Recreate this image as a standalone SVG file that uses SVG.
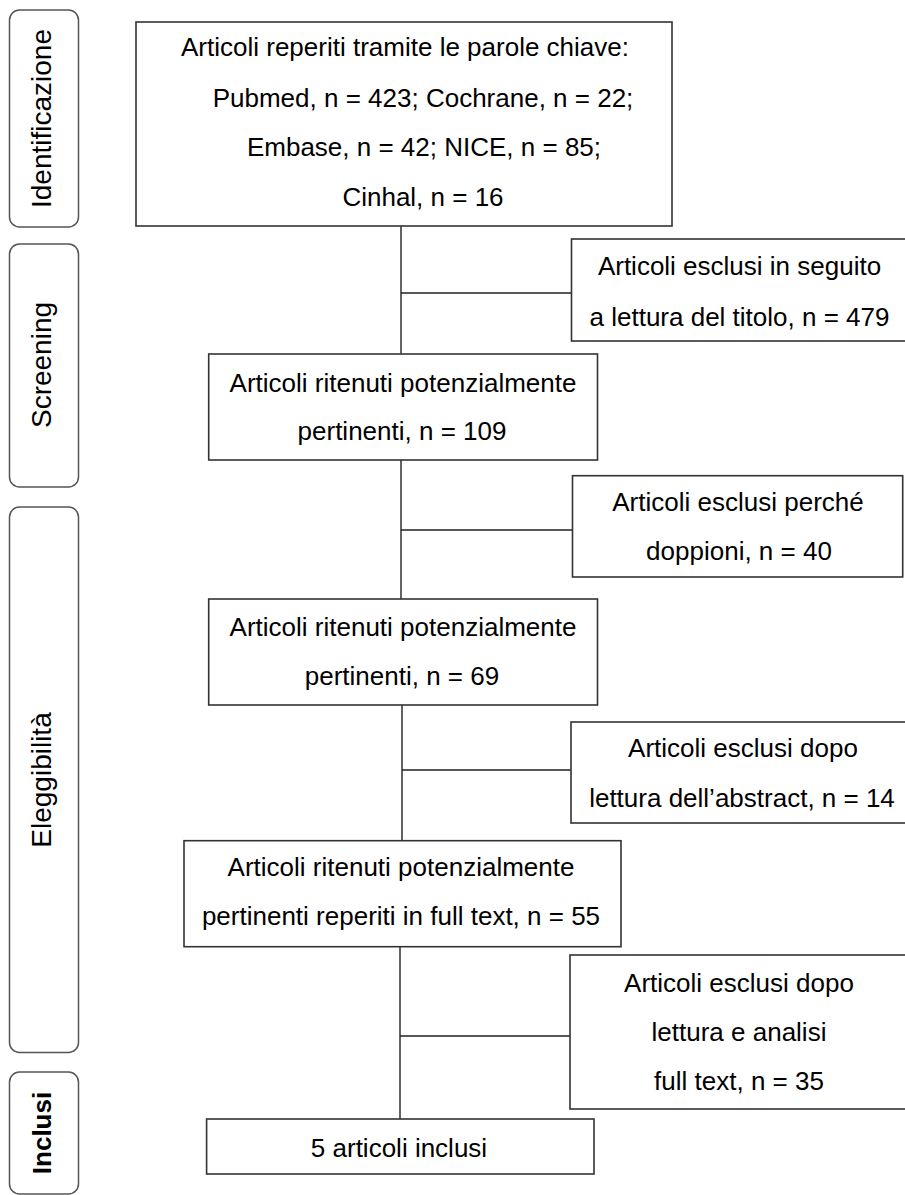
<svg xmlns="http://www.w3.org/2000/svg" width="905" height="1195" viewBox="0 0 905 1195">
<style>
.bg{fill:#ffffff}
.box{fill:#ffffff;stroke:#333333;stroke-width:1.6}
.lab{fill:#ffffff;stroke:#555555;stroke-width:1.5}
.t{font-family:"Liberation Sans",Arial,sans-serif;font-size:26px;fill:#000000;text-anchor:middle}
.lt{font-family:"Liberation Sans",Arial,sans-serif;font-size:28px;fill:#000000;text-anchor:middle}
.conn{fill:none;stroke:#222222;stroke-width:1.4}
</style>
<rect class="bg" x="0" y="0" width="905" height="1195"/>
<g id="phase-identificazione">
<rect class="lab" x="9.5" y="10" width="69" height="217" rx="10"/>
<text class="lt" transform="translate(51,118.5) rotate(-90)">Identificazione</text>
</g>
<g id="phase-screening">
<rect class="lab" x="9.5" y="244" width="69" height="243" rx="10"/>
<text class="lt" transform="translate(51,365) rotate(-90)">Screening</text>
</g>
<g id="phase-eleggibilita">
<rect class="lab" x="9.5" y="507" width="69" height="545.5" rx="10"/>
<text class="lt" transform="translate(51,780) rotate(-90)">Eleggibilità</text>
</g>
<g id="phase-inclusi">
<rect class="lab" x="9.5" y="1072" width="69" height="122" rx="10"/>
<text class="lt" style="font-size:26px;font-weight:bold" transform="translate(51,1133) rotate(-90)">Inclusi</text>
</g>
<g id="connectors">
<path class="conn" d="M401 226 V354 M401 293 H571.5"/>
<path class="conn" d="M401 460 V599 M401 530 H572.5"/>
<path class="conn" d="M402 705 V841 M402 770 H571"/>
<path class="conn" d="M400 947 V1119 M400 1036 H570"/>
</g>
<g id="n-identificati">
<rect class="box" x="136" y="22" width="536" height="204"/>
<text class="t" x="405" y="56">Articoli reperiti tramite le parole chiave:</text>
<text class="t" x="423" y="107">Pubmed, n = 423; Cochrane, n = 22;</text>
<text class="t" x="424" y="156">Embase, n = 42; NICE, n = 85;</text>
<text class="t" x="423" y="206">Cinhal, n = 16</text>
</g>
<g id="n-esclusi-titolo">
<rect class="box" x="571.5" y="239" width="340" height="102"/>
<text class="t" x="739.5" y="275">Articoli esclusi in seguito</text>
<text class="t" x="739.5" y="326">a lettura del titolo, n = 479</text>
</g>
<g id="n-pertinenti-109">
<rect class="box" x="208.7" y="354" width="388.8" height="106"/>
<text class="t" x="403" y="392">Articoli ritenuti potenzialmente</text>
<text class="t" x="402" y="440">pertinenti, n = 109</text>
</g>
<g id="n-esclusi-doppioni">
<rect class="box" x="572.5" y="475.7" width="330.2" height="101.3"/>
<text class="t" x="738" y="511">Articoli esclusi perché</text>
<text class="t" x="739" y="560">doppioni, n = 40</text>
</g>
<g id="n-pertinenti-69">
<rect class="box" x="208.7" y="599" width="388.8" height="106"/>
<text class="t" x="403" y="636">Articoli ritenuti potenzialmente</text>
<text class="t" x="402" y="685">pertinenti, n = 69</text>
</g>
<g id="n-esclusi-abstract">
<rect class="box" x="571" y="722" width="345" height="101"/>
<text class="t" x="743" y="757">Articoli esclusi dopo</text>
<text class="t" x="742" y="807">lettura dell’abstract, n = 14</text>
</g>
<g id="n-pertinenti-55">
<rect class="box" x="184" y="840.7" width="437" height="106"/>
<text class="t" x="401" y="876">Articoli ritenuti potenzialmente</text>
<text class="t" x="401" y="925">pertinenti reperiti in full text, n = 55</text>
</g>
<g id="n-esclusi-fulltext">
<rect class="box" x="570" y="955" width="342" height="154"/>
<text class="t" x="739" y="992">Articoli esclusi dopo</text>
<text class="t" x="739" y="1041">lettura e analisi</text>
<text class="t" x="739" y="1090">full text, n = 35</text>
</g>
<g id="n-inclusi">
<rect class="box" x="206.6" y="1119" width="387.4" height="55"/>
<text class="t" x="399" y="1157">5 articoli inclusi</text>
</g>
</svg>
